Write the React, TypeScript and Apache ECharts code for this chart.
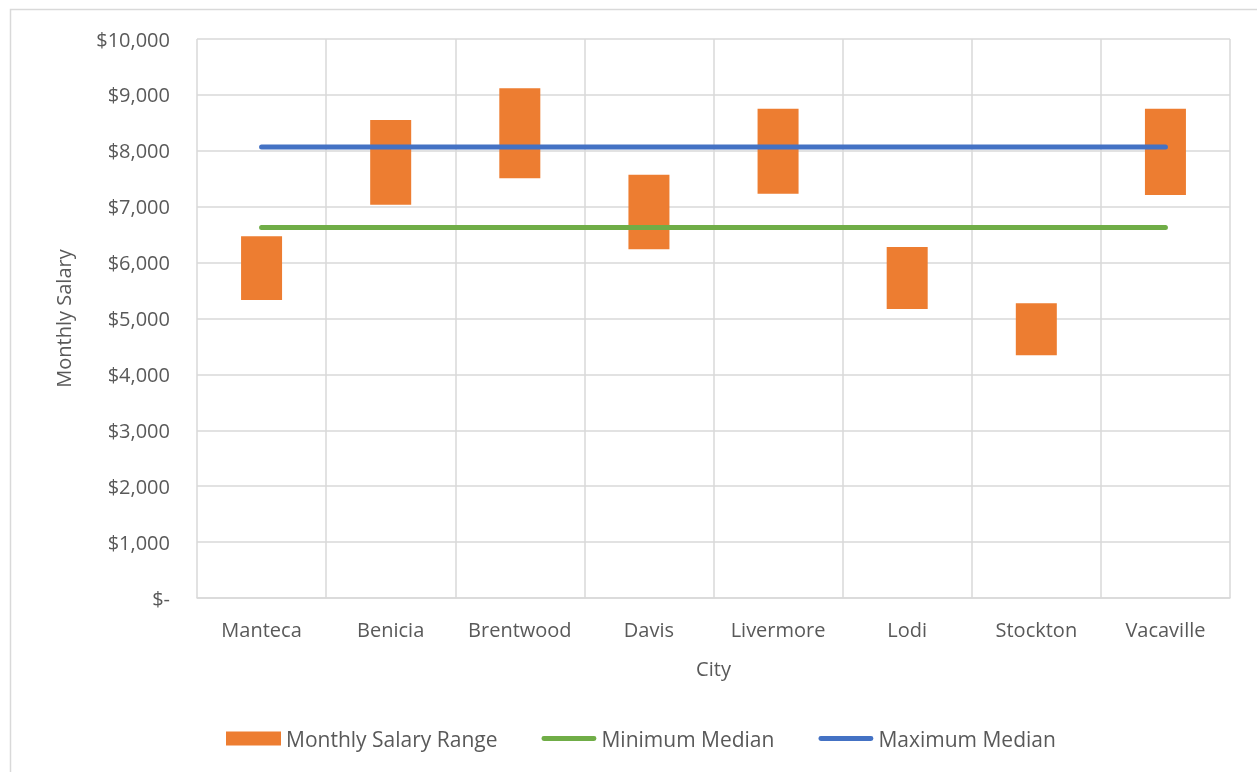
import React, { useEffect, useRef } from "react";
import * as echarts from "echarts";

const cities = ["Manteca", "Benicia", "Brentwood", "Davis", "Livermore", "Lodi", "Stockton", "Vacaville"];
const salaryLow = [5330, 7036, 7508, 6238, 7233, 5170, 4342, 7210];
const salaryHigh = [6470, 8550, 9118, 7573, 8753, 6279, 5272, 8753];
const minimumMedian = [6630, 6630, 6630, 6630, 6630, 6630, 6630, 6630];
const maximumMedian = [8068, 8068, 8068, 8068, 8068, 8068, 8068, 8068];

const FONT = "Open Sans";
const FS = 20;
const TEXT = "#595959";
const GRID = "#d9d9d9";
const LINE_ICON = "path://M2.5,0 L54.5,0 A2.5,2.5 0 0 1 54.5,5 L2.5,5 A2.5,2.5 0 0 1 2.5,0 Z";

export default function App() {
  const ref = useRef<HTMLDivElement>(null);
  useEffect(() => {
    if (!ref.current) return;
    const chart = echarts.init(ref.current, null, { renderer: "svg" });
    const rangeValues = salaryHigh.map((h, i) => h - salaryLow[i]);
    chart.setOption({
      animation: false,
      textStyle: { fontFamily: FONT, color: TEXT },
      graphic: [
        {
          type: "rect",
          shape: { x: 10.5, y: 9.5, width: 1300, height: 800 },
          style: { fill: "none", stroke: GRID, lineWidth: 1.5 },
          silent: true,
        },
      ],
      grid: { left: 197, right: 27, top: 39, bottom: 174 },
      legend: {
        bottom: 18,
        left: 221,
        itemWidth: 55,
        itemHeight: 14,
        itemGap: 44,
        textStyle: { fontFamily: FONT, fontSize: 21, color: TEXT },
        data: [
          { name: "Monthly Salary Range", icon: "rect" },
          { name: "Minimum Median", icon: LINE_ICON, itemStyle: { color: "#70AD47" } },
          { name: "Maximum Median", icon: LINE_ICON, itemStyle: { color: "#4472C4" } },
        ],
      },
      xAxis: {
        type: "category",
        data: cities,
        boundaryGap: true,
        name: "City",
        nameLocation: "middle",
        nameGap: 60,
        nameTextStyle: { fontFamily: FONT, fontSize: FS, color: TEXT },
        axisLine: { lineStyle: { color: GRID, width: 1.5 } },
        axisTick: { show: false, interval: 0 },
        axisLabel: { fontFamily: FONT, fontSize: FS, color: TEXT, margin: 21, interval: 0 },
        splitLine: { show: true, interval: 0, lineStyle: { color: GRID, width: 1.5 } },
      },
      yAxis: {
        type: "value",
        min: 0,
        max: 10000,
        interval: 1000,
        name: "Monthly Salary",
        nameLocation: "middle",
        nameGap: 124,
        nameTextStyle: { fontFamily: FONT, fontSize: FS, color: TEXT },
        axisLine: { show: false },
        axisTick: { show: false },
        axisLabel: {
          fontFamily: FONT,
          fontSize: FS,
          color: TEXT,
          margin: 27,
          formatter: (v: number) => (v === 0 ? "$-" : "$" + v.toLocaleString("en-US")),
        },
        splitLine: { show: true, lineStyle: { color: GRID, width: 1.5 } },
      },
      series: [
        {
          name: "base",
          type: "bar",
          stack: "range",
          data: salaryLow,
          barWidth: 41,
          itemStyle: { color: "transparent" },
          silent: true,
        },
        {
          name: "Monthly Salary Range",
          type: "bar",
          stack: "range",
          data: rangeValues,
          barWidth: 41,
          itemStyle: { color: "#ED7D31" },
        },
        {
          name: "Minimum Median",
          type: "line",
          data: minimumMedian,
          symbol: "none",
          lineStyle: { color: "#70AD47", width: 5, cap: "round" },
          itemStyle: { color: "#70AD47" },
          z: 3,
        },
        {
          name: "Maximum Median",
          type: "line",
          data: maximumMedian,
          symbol: "none",
          lineStyle: { color: "#4472C4", width: 5, cap: "round" },
          itemStyle: { color: "#4472C4" },
          z: 3,
        },
      ],
    });
    return () => chart.dispose();
  }, []);
  return <div ref={ref} style={{ position: "fixed", left: 0, top: 0, width: 1257, height: 772 }} />;
}
